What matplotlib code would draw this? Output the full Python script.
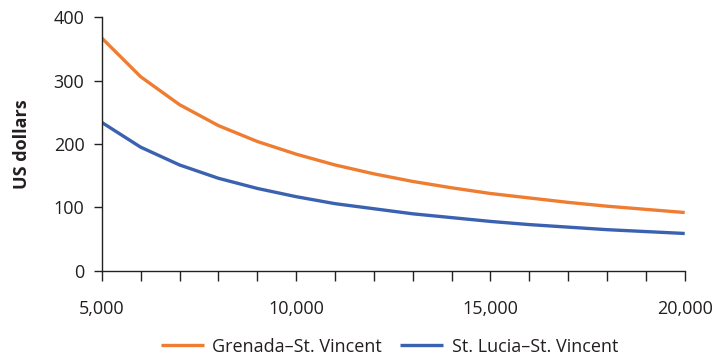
import matplotlib
matplotlib.use("Agg")
import matplotlib.pyplot as plt
from matplotlib.ticker import FuncFormatter, MultipleLocator

plt.rcParams['font.family'] = ['Open Sans', 'DejaVu Sans']

x_values = [5000, 6000, 7000, 8000, 9000, 10000, 11000, 12000, 13000, 14000,
            15000, 16000, 17000, 18000, 19000, 20000]
grenada = [367, 306, 262, 229, 204, 184, 167, 153, 141, 131, 122, 115, 108, 102, 97, 92]
st_lucia = [234, 195, 167, 146, 130, 117, 106, 98, 90, 84, 78, 73, 69, 65, 62, 59]
series_names = ["Grenada\u2013St. Vincent", "St. Lucia\u2013St. Vincent"]
colors = ["#EF7D31", "#3A62B0"]

fig = plt.figure(figsize=(7.17, 3.56), dpi=100)
ax = fig.add_axes([0.142, 0.239, 0.813, 0.713])

ax.plot(x_values, grenada, color=colors[0], lw=2.4, label=series_names[0], solid_capstyle='butt')
ax.plot(x_values, st_lucia, color=colors[1], lw=2.4, label=series_names[1], solid_capstyle='butt')

ax.set_xlim(5000, 20000)
ax.set_ylim(0, 400)
ax.xaxis.set_major_locator(MultipleLocator(5000))
ax.xaxis.set_minor_locator(MultipleLocator(1000))
ax.yaxis.set_major_locator(MultipleLocator(100))
ax.xaxis.set_major_formatter(FuncFormatter(lambda v, p: f"{int(v):,}"))

for s in ['top', 'right']:
    ax.spines[s].set_visible(False)
for s in ['left', 'bottom']:
    ax.spines[s].set_color('#222222')
    ax.spines[s].set_linewidth(1.0)

ax.tick_params(axis='x', which='both', direction='out', length=7, width=1.0, color='#222222')
ax.tick_params(axis='x', which='major', pad=14, labelsize=13, labelcolor='#231f20')
ax.tick_params(axis='y', direction='out', length=5.5, width=1.0, color='#222222',
               labelsize=13, labelcolor='#231f20', pad=7)

ax.set_ylabel("US dollars", fontsize=13, fontweight='bold', color='#231f20', labelpad=16)

leg = fig.legend(loc='lower center', bbox_to_anchor=(0.543, -0.045), ncol=2, frameon=False,
                 fontsize=13, handlelength=2.4, handletextpad=0.45, columnspacing=1.0)
for t in leg.get_texts():
    t.set_color('#231f20')

fig.savefig("out.png", dpi=100)
